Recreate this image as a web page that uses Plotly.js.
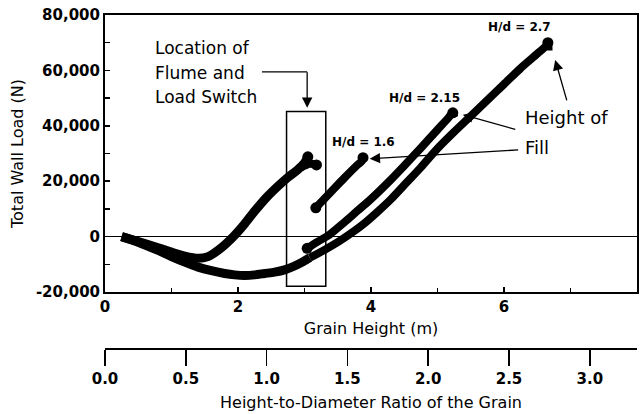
<!DOCTYPE html>
<html>
<head>
<meta charset="utf-8">
<script src="https://cdn.plot.ly/plotly-3.0.1.min.js"></script>
<style>html,body{margin:0;padding:0;background:#fff;}#chart{width:640px;height:414px;}</style>
</head>
<body>
<div id="chart"></div>
<script>
// ---- data (grain height in m, total wall load in N) ----
// fill to H/d = 1.6 : before the load switch
const fill16a_x = [0.25, 0.5, 0.8, 1.0, 1.2, 1.4, 1.55, 1.75, 1.93, 2.1, 2.25, 2.43, 2.6, 2.75, 2.9, 3.0, 3.05];
const fill16a_y = [0, -1800, -4000, -5600, -7000, -7800, -7200, -4000, 0, 4600, 9200, 14200, 18200, 21400, 24200, 26600, 28800];
// fork at the top of the first segment
const fill16fork_x = [2.95, 3.08, 3.18];
const fill16fork_y = [25000, 26300, 25900];
// fill to H/d = 1.6 : after the load switch
const fill16b_x = [3.17, 3.4, 3.6, 3.8, 3.86, 3.88];
const fill16b_y = [10400, 16200, 21200, 26000, 27200, 28500];
// shared trough of the H/d = 2.15 and H/d = 2.7 fills
const trough_x = [0.25, 0.5, 0.8, 1.0, 1.2, 1.4, 1.6, 1.8, 1.95, 2.1, 2.25, 2.4, 2.55, 2.7, 2.85, 2.98, 3.08];
const trough_y = [0, -2000, -5000, -7200, -9200, -11000, -12300, -13300, -13800, -14000, -13800, -13300, -12800, -12000, -10600, -9000, -7600];
// fill to H/d = 2.15 after the switch
const fill215_x = [3.04, 3.2, 3.38, 3.6, 3.8, 4.0, 4.3, 4.5, 4.75, 5.0, 5.15, 5.23, 5.25];
const fill215_y = [-4200, -1800, 800, 5200, 9400, 13600, 20600, 25600, 32000, 38600, 42500, 44700, 43200];
// fill to H/d = 2.7 after the switch
const fill27_x = [3.08, 3.3, 3.5, 3.7, 3.9, 4.1, 4.3, 4.5, 4.75, 5.0, 5.25, 5.5, 5.75, 6.0, 6.25, 6.5, 6.63, 6.66, 6.67];
const fill27_y = [-7600, -4800, -2000, 1200, 4800, 9000, 13500, 18600, 25000, 31800, 37800, 43500, 49300, 55000, 60800, 66000, 68800, 70000, 67200];

// axes
const yTickVals = [-20000, 0, 20000, 40000, 60000, 80000];
const yTickText = ['-20,000', '0', '20,000', '40,000', '60,000', '80,000'];
const xTickVals = [0, 2, 4, 6, 8];
const hdTickVals = [0, 0.5, 1.0, 1.5, 2.0, 2.5, 3.0];
const hdTickText = ['0.0', '0.5', '1.0', '1.5', '2.0', '2.5', '3.0'];
const siloDiameter = 2.43; // m, relates grain height to H/d
const maxHeight = 8;

const last = a => a[a.length - 1];
const endX = [last(fill16a_x), last(fill16fork_x), fill16b_x[0], last(fill16b_x), fill215_x[0], fill215_x[fill215_x.length - 2], fill27_x[fill27_x.length - 2]];
const endY = [last(fill16a_y), last(fill16fork_y), fill16b_y[0], last(fill16b_y), fill215_y[0], fill215_y[fill215_y.length - 2], fill27_y[fill27_y.length - 2]];

const lineStyle = {color: '#000', width: 8, shape: 'spline', smoothing: 0.8};
const traces = [
  {x: trough_x, y: trough_y, mode: 'lines', line: {color: '#000', width: 9, shape: 'spline', smoothing: 0.8}},
  {x: fill16a_x, y: fill16a_y, mode: 'lines', line: {color: '#000', width: 9, shape: 'spline', smoothing: 0.8}},
  {x: fill16fork_x, y: fill16fork_y, mode: 'lines', line: lineStyle},
  {x: fill16b_x, y: fill16b_y, mode: 'lines', line: lineStyle},
  {x: fill215_x, y: fill215_y, mode: 'lines', line: lineStyle},
  {x: fill27_x, y: fill27_y, mode: 'lines', line: lineStyle},
  {x: endX, y: endY, mode: 'markers', marker: {color: '#000', size: 11}},
  // carrier for the secondary (H/d) axis: no visible marks
  {x: hdTickVals, y: hdTickVals.map(() => null), xaxis: 'x2', yaxis: 'y', mode: 'markers', hoverinfo: 'skip'}
];

const FONT = 'DejaVu Sans, Arial, sans-serif';
const tickFont = {family: FONT, size: 15, color: '#000', weight: 'bold'};
const titleFont = {family: FONT, size: 16, color: '#000'};
const noteFont = {family: FONT, size: 17, color: '#000'};
const hdFont = {family: FONT, size: 12, color: '#000', weight: 'bold'};

const annotations = [
  {x: 0.72, y: 68100, text: 'Location of', xanchor: 'left', yanchor: 'middle', showarrow: false, font: noteFont},
  {x: 0.72, y: 59100, text: 'Flume and', xanchor: 'left', yanchor: 'middle', showarrow: false, font: noteFont},
  {x: 0.72, y: 50500, text: 'Load Switch', xanchor: 'left', yanchor: 'middle', showarrow: false, font: noteFont},
  {x: 3.04, y: 46500, text: '', showarrow: true, ax: 0, ay: -37, arrowhead: 2, arrowsize: 1.6, arrowwidth: 1.3, arrowcolor: '#000'},
  {x: 6.23, y: 75700, text: 'H/d = 2.7', showarrow: false, font: hdFont},
  {x: 4.81, y: 50100, text: 'H/d = 2.15', showarrow: false, font: hdFont},
  {x: 3.88, y: 34200, text: 'H/d = 1.6', showarrow: false, font: hdFont},
  {x: 6.29, y: 42900, text: 'Height of', xanchor: 'left', yanchor: 'middle', showarrow: false, font: {family: FONT, size: 18, color: '#000'}},
  {x: 6.29, y: 32300, text: 'Fill', xanchor: 'left', yanchor: 'middle', showarrow: false, font: {family: FONT, size: 18, color: '#000'}},
  {x: 6.77, y: 63800, text: '', showarrow: true, ax: 12, ay: 42, arrowhead: 2, arrowsize: 1.6, arrowwidth: 1.3, arrowcolor: '#000'},
  {x: 5.38, y: 44000, text: '', showarrow: true, ax: 54, ay: 15, arrowhead: 2, arrowsize: 1.6, arrowwidth: 1.3, arrowcolor: '#000'},
  {x: 3.98, y: 28100, text: '', showarrow: true, ax: 150, ay: -9, arrowhead: 2, arrowsize: 1.6, arrowwidth: 1.3, arrowcolor: '#000'}
];

const shapes = [
  {type: 'rect', xref: 'x', yref: 'y', x0: 2.73, x1: 3.32, y0: -17900, y1: 45150, line: {color: '#000', width: 1.5}},
  {type: 'line', xref: 'x', yref: 'y', x0: 2.36, x1: 3.04, y0: 59500, y1: 59500, line: {color: '#000', width: 1.3}}
];

const layout = {
  width: 640, height: 414,
  margin: {l: 105, r: 3, t: 15, b: 66},
  paper_bgcolor: '#fff', plot_bgcolor: '#fff',
  showlegend: false,
  xaxis: {
    range: [0, maxHeight], tickvals: xTickVals, ticks: 'inside', ticklen: 5, tickwidth: 1.5, tickcolor: '#000',
    minor: {dtick: 1, ticks: 'inside', ticklen: 4, tickcolor: '#000'},
    showline: true, linecolor: '#000', linewidth: 2, mirror: true, showgrid: false, zeroline: false,
    tickfont: tickFont, title: {text: 'Grain Height (m)', font: titleFont, standoff: 8}
  },
  yaxis: {
    domain: [0.168, 1],
    range: [-20000, 80000], tickvals: yTickVals, ticktext: yTickText, ticks: 'inside', ticklen: 5, tickwidth: 1.5, tickcolor: '#000',
    minor: {dtick: 10000, ticks: 'inside', ticklen: 5, tickcolor: '#000'},
    showline: true, linecolor: '#000', linewidth: 2, mirror: true, showgrid: false,
    zeroline: true, zerolinecolor: '#000', zerolinewidth: 1.5,
    tickfont: tickFont, title: {text: 'Total Wall Load (N)', font: titleFont, standoff: 8}
  },
  xaxis2: {
    overlaying: 'x', anchor: 'free', position: 0, side: 'bottom',
    range: [0, maxHeight / siloDiameter], tickvals: hdTickVals, ticktext: hdTickText,
    ticks: 'outside', ticklen: 16, tickwidth: 1.5, tickcolor: '#000',
    showline: true, linecolor: '#000', linewidth: 1.5, showgrid: false, zeroline: false,
    tickfont: tickFont, title: {text: 'Height-to-Diameter Ratio of the Grain', font: titleFont, standoff: 10}
  },
  annotations: annotations,
  shapes: shapes
};

Plotly.newPlot('chart', traces, layout, {staticPlot: true, displayModeBar: false});
</script>
</body>
</html>
